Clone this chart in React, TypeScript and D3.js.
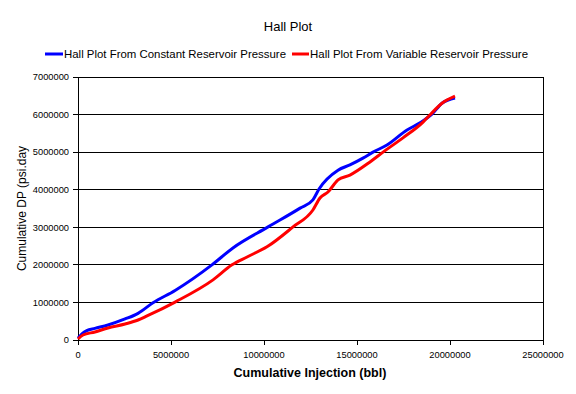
import React from "react";
import * as d3 from "d3";

// cumulative injection (bbl) vs cumulative DP (psi.day)
const constInj = [0, 200000, 470000, 910000, 1610000, 2530000, 3230000, 4030000, 5220000, 7200000, 8330000, 10220000, 11940000, 12630000, 12960000, 13980000, 14620000, 15320000, 15860000, 16610000, 17690000, 18390000, 19030000, 19570000, 20270000];
const constDP = [50000, 160000, 250000, 310000, 400000, 560000, 710000, 990000, 1320000, 2000000, 2450000, 3010000, 3510000, 3730000, 4020000, 4520000, 4660000, 4840000, 5000000, 5190000, 5590000, 5780000, 6010000, 6300000, 6440000];

const varInj = [0, 270000, 910000, 1610000, 2530000, 3230000, 3710000, 5220000, 7260000, 8280000, 9090000, 10160000, 11560000, 12630000, 13010000, 13440000, 13980000, 14620000, 15700000, 16400000, 17470000, 18550000, 18920000, 19570000, 20270000];
const varDP = [27000, 133000, 213000, 320000, 426000, 532000, 640000, 1010000, 1600000, 2000000, 2210000, 2480000, 3010000, 3460000, 3780000, 3940000, 4260000, 4390000, 4740000, 5000000, 5380000, 5800000, 5990000, 6300000, 6490000];

const xTicks = [0, 5000000, 10000000, 15000000, 20000000, 25000000];
const yTicks = [0, 1000000, 2000000, 3000000, 4000000, 5000000, 6000000, 7000000];

const seriesNames = ["Hall Plot From Constant Reservoir Pressure", "Hall Plot From Variable Reservoir Pressure"];

const App = () => {
  const width = 576;
  const height = 394;
  const left = 78, right = 543, top = 77, bottom = 340;

  const x = d3.scaleLinear().domain([0, 25000000]).range([left, right]);
  const y = d3.scaleLinear().domain([0, 7000000]).range([bottom, top]);

  const line = d3.line<[number, number]>()
    .x(d => x(d[0]))
    .y(d => y(d[1]))
    .curve(d3.curveMonotoneX);

  const constPts = constInj.map((v, i) => [v, constDP[i]] as [number, number]);
  const varPts = varInj.map((v, i) => [v, varDP[i]] as [number, number]);

  const font = "'Liberation Sans', Arial, sans-serif";

  return (
    <svg width={width} height={height} style={{ position: "absolute", left: 0, top: 0, background: "#fff" }} fontFamily={font}>
      <text x={288} y={31} textAnchor="middle" fontSize={13}>Hall Plot</text>

      {/* legend */}
      <line x1={45} x2={63} y1={54} y2={54} stroke="#0000ff" strokeWidth={3} />
      <text x={64} y={58} fontSize={11.5} textLength={222} lengthAdjust="spacingAndGlyphs">{seriesNames[0]}</text>
      <line x1={292} x2={309} y1={54} y2={54} stroke="#ff0000" strokeWidth={3} />
      <text x={310} y={58} fontSize={11.5} textLength={218} lengthAdjust="spacingAndGlyphs">{seriesNames[1]}</text>

      {/* gridlines */}
      {yTicks.map(t => (
        <line key={"g" + t} x1={left} x2={right} y1={y(t)} y2={y(t)} stroke="#000" strokeWidth={1} shapeRendering="crispEdges" />
      ))}
      <rect x={left} y={top} width={right - left} height={bottom - top} fill="none" stroke="#000" strokeWidth={1} shapeRendering="crispEdges" />

      {/* y axis ticks */}
      {yTicks.map(t => (
        <g key={"y" + t}>
          <line x1={left - 5} x2={left} y1={y(t)} y2={y(t)} stroke="#000" shapeRendering="crispEdges" />
          <text x={69} y={y(t)} dy="0.35em" textAnchor="end" fontSize={9.3}>{t}</text>
        </g>
      ))}

      {/* x axis ticks */}
      {xTicks.map(t => (
        <g key={"x" + t}>
          <line x1={x(t)} x2={x(t)} y1={bottom} y2={bottom + 5} stroke="#000" shapeRendering="crispEdges" />
          <text x={x(t)} y={355} dy="0.35em" textAnchor="middle" fontSize={9.3}>{t}</text>
        </g>
      ))}

      <path d={line(constPts) ?? ""} fill="none" stroke="#0000ff" strokeWidth={3} strokeLinejoin="round" />
      <path d={line(varPts) ?? ""} fill="none" stroke="#ff0000" strokeWidth={3} strokeLinejoin="round" />

      <text x={310} y={377} textAnchor="middle" fontSize={12.5} fontWeight="bold">Cumulative Injection (bbl)</text>
      <text transform={`translate(26, 208.5) rotate(-90)`} textAnchor="middle" fontSize={12}>Cumulative DP (psi.day</text>
    </svg>
  );
};

export default App;
